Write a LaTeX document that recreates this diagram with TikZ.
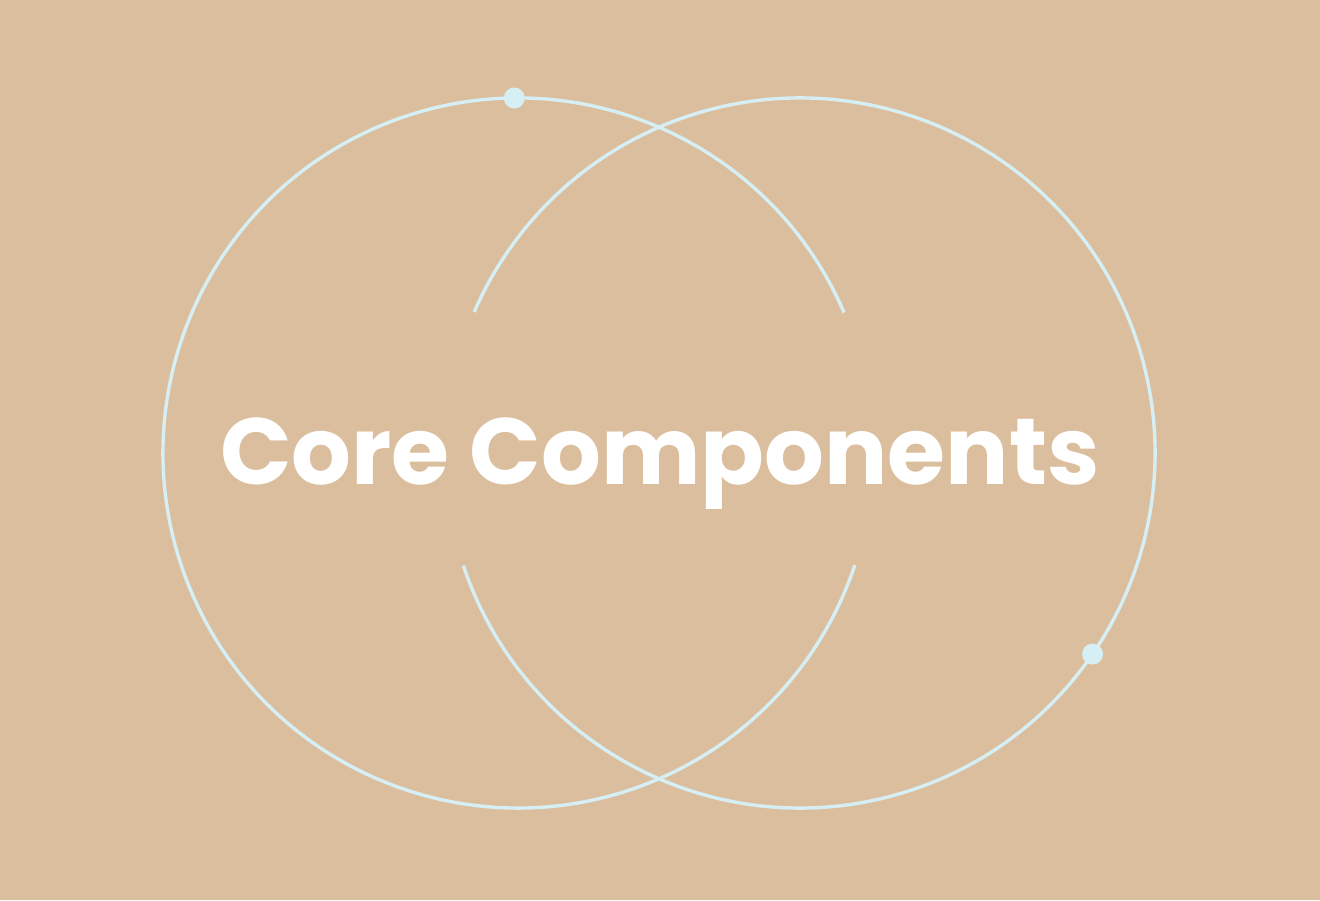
\documentclass[tikz,border=0pt]{standalone}
\usepackage{fontspec}
\usetikzlibrary{calc}
\setmainfont{Poppins}[BoldFont={Poppins Bold}]
\definecolor{bgtan}{HTML}{DBBE9D}
\definecolor{ringblue}{HTML}{D6EFF5}
\tikzset{
  ring/.style={draw=ringblue, line width=3.4pt},
  ringdot/.style={circle, fill=ringblue, minimum size=21pt, inner sep=0pt},
  title/.style={text=white, font=\bfseries\fontsize{94}{100}\selectfont}
}
\begin{document}
\begin{tikzpicture}[x=1pt,y=1pt]
  \fill[bgtan] (0,0) rectangle (1320,900);
  \useasboundingbox (0,0) rectangle (1320,900);
  \coordinate (cl) at (518,447);
  \coordinate (cr) at (800,447);
  % left circle, gap on its right side
  \draw[ring] ($(cl)+(23.3:355)$) arc[start angle=23.3, end angle=341.6, radius=355];
  % right circle, gap on its left side
  \draw[ring] ($(cr)+(198.5:355)$) arc[start angle=198.5, end angle=516.6, radius=355];
  \node[ringdot] (d1) at ($(cl)+(90.6:355)$) {};
  \node[ringdot] (d2) at ($(cr)+(-34.5:355)$) {};
  \node[title] (t) at (660,436) {Core Components};
\end{tikzpicture}
\end{document}
